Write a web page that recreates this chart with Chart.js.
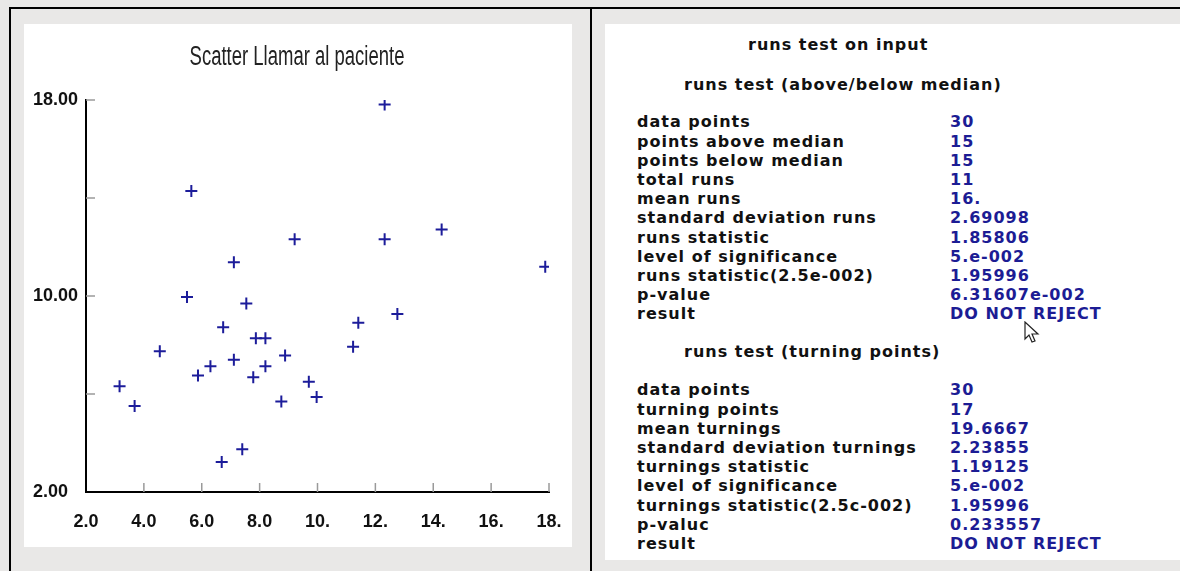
<!DOCTYPE html>
<html>
<head>
<meta charset="utf-8">
<script src="https://cdn.jsdelivr.net/npm/chart.js@4/dist/chart.umd.min.js"></script>
<style>
  body { margin: 0; width: 1180px; height: 571px; background: #e9e8e7; position: relative; overflow: hidden; }
  .frame { position: absolute; background: #000; }
  #leftPanel { position: absolute; left: 24px; top: 24px; width: 548px; height: 523px; background: #fff; }
  #rightPanel { position: absolute; left: 605px; top: 24px; width: 575px; height: 536px; background: #fff; }
  .stats { position: absolute; font-family: "DejaVu Sans", sans-serif; font-weight: bold; font-size: 16px; letter-spacing: 1px; line-height: 19.2px; white-space: pre; color: #111; }
  .vals { color: #1c1c94; }
</style>
</head>
<body>
<div class="frame" style="left:9px;top:7px;width:1171px;height:2px"></div>
<div class="frame" style="left:9px;top:7px;width:2px;height:564px"></div>
<div class="frame" style="left:590px;top:7px;width:2px;height:564px"></div>
<div id="leftPanel"><canvas id="scatter" width="548" height="523"></canvas></div>
<div id="rightPanel"></div>
<svg style="position:absolute;left:1024px;top:321px" width="20" height="26" viewBox="0 0 20 26">
  <path d="M1 1 L1 18 L5 14 L8 21 L11 20 L8 13 L14 13 Z" fill="#fff" stroke="#222" stroke-width="1.2"/>
</svg>
<script>
// scatter points
const xs = [12.32, 5.64, 9.21, 12.32, 14.29, 7.11, 17.87, 5.49, 7.54, 12.76, 11.41, 6.74, 7.87, 8.20, 11.23,
            4.55, 8.88, 7.11, 6.30, 8.20, 5.87, 7.78, 9.70, 3.16, 9.97, 8.75, 3.68, 7.40, 6.69];
const ys = [17.82, 14.29, 12.32, 12.32, 12.71, 11.38, 11.19, 9.96, 9.69, 9.27, 8.91, 8.72, 8.28, 8.28, 7.93,
            7.75, 7.57, 7.40, 7.13, 7.13, 6.76, 6.68, 6.50, 6.32, 5.88, 5.69, 5.51, 3.75, 3.22];
const chartTitle = "Scatter Llamar al paciente";
const yLabelValues = [2, 10, 18];

// runs test text
const heading = "runs test on input";
const medianHeading = "runs test (above/below median)";
const medianLabels = ["data points", "points above median", "points below median", "total runs", "mean runs",
  "standard deviation runs", "runs statistic", "level of significance", "runs statistic(2.5e-002)", "p-value", "result"];
const medianValues = ["30", "15", "15", "11", "16.", "2.69098", "1.85806", "5.e-002", "1.95996", "6.31607e-002", "DO NOT REJECT"];
const turnHeading = "runs test (turning points)";
const turnLabels = ["data points", "turning points", "mean turnings", "standard deviation turnings", "turnings statistic",
  "level of significance", "turnings statistic(2.5c-002)", "p-valuc", "result"];
const turnValues = ["30", "17", "19.6667", "2.23855", "1.19125", "5.e-002", "1.95996", "0.233557", "DO NOT REJECT"];

const panel = document.getElementById("rightPanel");
const addBlock = (lines, left, top, cls) => {
  const d = document.createElement("div");
  d.className = "stats " + (cls || "");
  d.style.left = (left - 605) + "px";
  d.style.top = (top - 24) + "px";
  d.textContent = lines.join("\n");
  panel.appendChild(d);
};
addBlock([heading], 748, 35.4);
addBlock([medianHeading], 684, 75.4);
addBlock(medianLabels, 637, 112.4);
addBlock(medianValues, 950, 112.4, "vals");
addBlock([turnHeading], 684, 342.4);
addBlock(turnLabels, 637, 380.4);
addBlock(turnValues, 950, 380.4, "vals");

const navy = "#1c1c9a";
const tickFont = { family: "'Liberation Sans', Arial, sans-serif", size: 18, weight: "bold" };

// short gray tick marks drawn inward from the axes
const innerTicks = {
  id: "innerTicks",
  afterDraw(chart) {
    const ctx = chart.ctx, xS = chart.scales.x, yS = chart.scales.y;
    ctx.save();
    ctx.strokeStyle = "#9a9a9a";
    ctx.lineWidth = 1.5;
    yS.ticks.forEach(t => {
      if (t.value === yS.min) return;
      const py = yS.getPixelForValue(t.value);
      ctx.beginPath(); ctx.moveTo(xS.left, py); ctx.lineTo(xS.left + 9, py); ctx.stroke();
    });
    xS.ticks.forEach(t => {
      if (t.value === xS.min) return;
      const px = xS.getPixelForValue(t.value);
      ctx.beginPath(); ctx.moveTo(px, yS.bottom); ctx.lineTo(px, yS.bottom - 9); ctx.stroke();
    });
    ctx.restore();
  }
};

// condensed title, squeezed horizontally like the original narrow font
const narrowTitle = {
  id: "narrowTitle",
  afterDraw(chart) {
    const ctx = chart.ctx;
    ctx.save();
    ctx.font = "27px 'Liberation Sans', Arial, sans-serif";
    ctx.fillStyle = "#222";
    ctx.textAlign = "center";
    ctx.textBaseline = "middle";
    ctx.translate(273, 34);
    ctx.scale(0.685, 1);
    ctx.fillText(chartTitle, 0, 0);
    ctx.restore();
  }
};

new Chart(document.getElementById("scatter"), {
  type: "scatter",
  data: {
    datasets: [{
      data: xs.map((x, i) => ({ x: x, y: ys[i] })),
      pointStyle: "cross",
      radius: 6,
      borderWidth: 2,
      borderColor: navy,
      backgroundColor: navy
    }]
  },
  options: {
    responsive: false,
    animation: false,
    layout: { padding: { top: 76, left: 9, right: 23, bottom: 0 } },
    plugins: {
      legend: { display: false },
      tooltip: { enabled: false },
      title: { display: false }
    },
    scales: {
      x: {
        type: "linear",
        min: 2, max: 18,
        ticks: {
          stepSize: 2,
          color: "#111",
          font: tickFont,
          padding: 19,
          maxRotation: 0,
          callback: v => v < 10 ? v.toFixed(1) : v + "."
        },
        grid: { display: true, drawOnChartArea: false, drawTicks: false },
        border: { color: "#000", width: 2 },
        afterFit: s => { s.height = 55; s.paddingLeft = 0; s.paddingRight = 0; }
      },
      y: {
        type: "linear",
        min: 2, max: 18,
        ticks: {
          stepSize: 4,
          color: "#111",
          font: tickFont,
          crossAlign: "far",
          padding: 0,
          callback: v => yLabelValues.includes(v) ? v.toFixed(2) : ""
        },
        grid: { display: true, drawOnChartArea: false, drawTicks: false },
        border: { color: "#000", width: 2 },
        afterFit: s => { s.width = 53; s.paddingTop = 0; s.paddingBottom = 0; }
      }
    }
  },
  plugins: [innerTicks, narrowTitle]
});
</script>
</body>
</html>
